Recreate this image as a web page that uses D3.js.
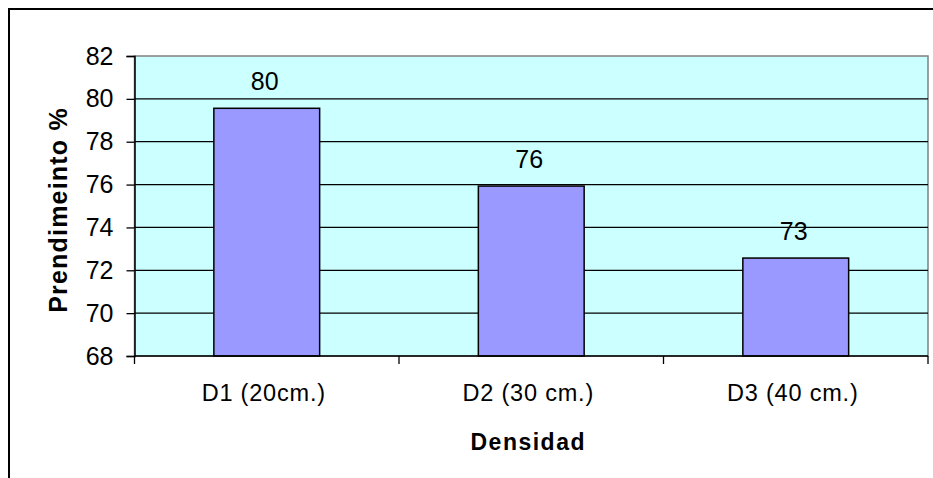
<!DOCTYPE html>
<html>
<head>
<meta charset="utf-8">
<script src="https://cdn.jsdelivr.net/npm/d3@7"></script>
<style>
  html, body { margin: 0; padding: 0; background: #fff; }
  svg { display: block; font-family: Arial, "Liberation Sans", sans-serif; }
</style>
</head>
<body>
<svg id="chart" width="933" height="478"></svg>
<script>
// Rendimiento por densidad de siembra
const categories = ["D1 (20cm.)", "D2 (30 cm.)", "D3 (40 cm.)"];
const values = [79.56, 75.93, 72.57];
const yTicks = [68, 70, 72, 74, 76, 78, 80, 82];
const yTitle = "Prendimeinto %";
const xTitle = "Densidad";

const svg = d3.select("#chart");
const plot = { left: 134.5, top: 56, right: 928, bottom: 356 };

// outer frame
svg.append("rect")
  .attr("x", 9).attr("y", 9)
  .attr("width", 940).attr("height", 480)
  .attr("fill", "none").attr("stroke", "#000").attr("stroke-width", 2);

const x = d3.scaleBand()
  .domain(categories)
  .range([plot.left, plot.right])
  .paddingInner(0.6)
  .paddingOuter(0.3);

const y = d3.scaleLinear()
  .domain([68, 82])
  .range([plot.bottom, plot.top]);

// plot background
svg.append("rect")
  .attr("x", plot.left).attr("y", plot.top)
  .attr("width", plot.right - plot.left).attr("height", plot.bottom - plot.top)
  .attr("fill", "#CCFFFF")
  .attr("stroke", "#808080").attr("stroke-width", 1.5);

// horizontal gridlines
svg.append("g")
  .selectAll("line")
  .data(yTicks.filter(t => t > 68 && t < 82))
  .join("line")
  .attr("x1", plot.left).attr("x2", plot.right)
  .attr("y1", d => y(d)).attr("y2", d => y(d))
  .attr("stroke", "#000").attr("stroke-width", 1.3);

// bars
svg.append("g")
  .selectAll("rect")
  .data(values)
  .join("rect")
  .attr("x", (d, i) => x(categories[i]))
  .attr("y", d => y(d))
  .attr("width", x.bandwidth())
  .attr("height", d => y(68) - y(d))
  .attr("fill", "#9999FF")
  .attr("stroke", "#000").attr("stroke-width", 1.5);

// value labels
const fmt = d3.format(".0f");
svg.append("g")
  .selectAll("text")
  .data(values)
  .join("text")
  .attr("x", (d, i) => x(categories[i]) + x.bandwidth() / 2 - 2)
  .attr("y", d => y(d) - 18)
  .attr("text-anchor", "middle")
  .attr("font-size", 25)
  .attr("fill", "#000")
  .text(d => fmt(d));

// y axis
const yAxis = d3.axisLeft(y).tickValues(yTicks).tickSize(8).tickPadding(13).tickFormat(d3.format("d"));
const gy = svg.append("g").attr("transform", `translate(${plot.left},0)`).call(yAxis);
gy.select(".domain").attr("stroke", "#000").attr("stroke-width", 1.5);
gy.selectAll(".tick line").attr("stroke", "#000").attr("stroke-width", 1.3);
gy.selectAll(".tick text").attr("font-size", 25).attr("fill", "#000")
  .attr("font-family", "Arial, 'Liberation Sans', sans-serif");

// x axis with ticks at category boundaries
const boundaries = [0, 1, 2, 3].map(i => plot.left + i * x.step());
const gx = svg.append("g");
gx.append("line")
  .attr("x1", plot.left).attr("x2", plot.right)
  .attr("y1", plot.bottom).attr("y2", plot.bottom)
  .attr("stroke", "#000").attr("stroke-width", 1.5);
gx.selectAll("line.tk")
  .data(boundaries)
  .join("line").attr("class", "tk")
  .attr("x1", d => d).attr("x2", d => d)
  .attr("y1", plot.bottom).attr("y2", plot.bottom + 8)
  .attr("stroke", "#000").attr("stroke-width", 1.3);
gx.selectAll("text")
  .data(categories)
  .join("text")
  .attr("x", d => x(d) + x.bandwidth() / 2 - 3)
  .attr("y", plot.bottom + 45)
  .attr("text-anchor", "middle")
  .attr("font-size", 23.5)
  .attr("letter-spacing", 0.8)
  .attr("fill", "#000")
  .text(d => d);

// axis titles
svg.append("text")
  .attr("x", (plot.left + plot.right) / 2 - 3)
  .attr("y", 450)
  .attr("text-anchor", "middle")
  .attr("font-size", 23)
  .attr("font-weight", "bold")
  .attr("letter-spacing", 1.5)
  .text(xTitle);

svg.append("text")
  .attr("transform", `translate(67,210) rotate(-90)`)
  .attr("text-anchor", "middle")
  .attr("font-size", 25)
  .attr("font-weight", "bold")
  .attr("letter-spacing", 1.2)
  .text(yTitle);
</script>
</body>
</html>
